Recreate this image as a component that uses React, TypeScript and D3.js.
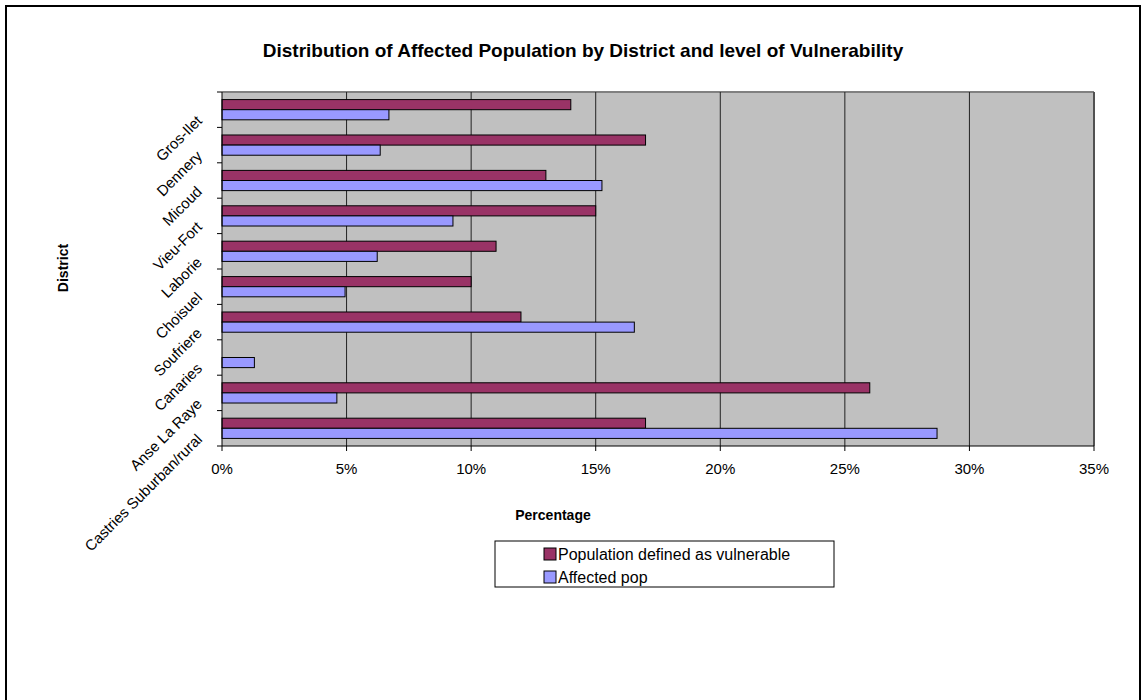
import React from "react";
import { scaleBand, scaleLinear, format } from "d3";

const districts = [
  "Gros-Ilet",
  "Dennery",
  "Micoud",
  "Vieu-Fort",
  "Laborie",
  "Choisuel",
  "Soufriere",
  "Canaries",
  "Anse La Raye",
  "Castries Suburban/rural",
];

const vulnerable = [0.14, 0.17, 0.13, 0.15, 0.11, 0.1, 0.12, 0, 0.26, 0.17];
const affected = [0.067, 0.0635, 0.1525, 0.0927, 0.0623, 0.0494, 0.1655, 0.013, 0.0461, 0.287];

const seriesNames = ["Population defined as vulnerable", "Affected pop"];
const seriesColors = ["#993366", "#9999FF"];
const xTicks = [0, 0.05, 0.1, 0.15, 0.2, 0.25, 0.3, 0.35];

const W = 1146;
const H = 700;
const left = 222;
const right = 1094;
const top = 92;
const bottom = 446;
const font = "'Liberation Sans', Arial, sans-serif";

export default function App() {
  const x = scaleLinear().domain([0, 0.35]).range([left, right]);
  const y = scaleBand().domain(districts).range([top, bottom]).paddingInner(0).paddingOuter(0);
  const inner = scaleBand()
    .domain(seriesNames)
    .range([0, y.bandwidth()])
    .paddingInner(0)
    .paddingOuter(0.75);
  const pct = format(".0%");
  const series = [vulnerable, affected];

  return (
    <svg
      width={W}
      height={H}
      style={{ position: "absolute", left: 0, top: 0, display: "block" }}
      fontFamily={font}
    >
      <rect x={0} y={0} width={W} height={H} fill="#fff" />
      <rect x={6} y={6} width={1134} height={720} fill="none" stroke="#000" strokeWidth={2} />

      <text x={583} y={57} textAnchor="middle" fontSize={19} fontWeight="bold">
        Distribution of Affected Population by District and level of Vulnerability
      </text>

      {/* plot area */}
      <rect x={left} y={top} width={right - left} height={bottom - top} fill="#C0C0C0" />
      <line x1={left} x2={right} y1={top} y2={top} stroke="#808080" strokeWidth={2} />
      <line x1={right} x2={right} y1={top} y2={bottom} stroke="#808080" strokeWidth={2} />
      {xTicks.slice(1).map((t) => (
        <line key={t} x1={x(t)} x2={x(t)} y1={top} y2={bottom} stroke="#222" strokeWidth={1} />
      ))}

      {districts.map((d, i) => (
        <g key={d} transform={`translate(0,${y(d)})`}>
          {series.map((s, j) =>
            s[i] > 0 ? (
              <rect
                key={j}
                x={left}
                y={inner(seriesNames[j])}
                width={x(s[i]) - left}
                height={inner.bandwidth()}
                fill={seriesColors[j]}
                stroke="#000"
                strokeWidth={1}
              />
            ) : null
          )}
        </g>
      ))}

      {/* y axis */}
      <line x1={left} x2={left} y1={top} y2={bottom} stroke="#000" strokeWidth={1} />
      {[...districts.map((d) => y(d) as number), bottom].map((v, i) => (
        <line key={i} x1={left - 5} x2={left} y1={v} y2={v} stroke="#000" />
      ))}
      {districts.map((d) => {
        const cx = 203;
        const cy = (y(d) as number) + y.bandwidth() / 2 + 12;
        return (
          <text
            key={d}
            x={cx}
            y={cy}
            textAnchor="end"
            fontSize={15}
            transform={`rotate(-45,${cx},${cy})`}
          >
            {d}
          </text>
        );
      })}

      {/* x axis */}
      <line x1={left} x2={right} y1={bottom} y2={bottom} stroke="#000" strokeWidth={1} />
      {xTicks.map((t) => (
        <g key={t}>
          <line x1={x(t)} x2={x(t)} y1={bottom} y2={bottom + 5} stroke="#000" />
          <text x={x(t)} y={474} textAnchor="middle" fontSize={15}>
            {pct(t)}
          </text>
        </g>
      ))}

      <text x={553} y={520} textAnchor="middle" fontSize={14} fontWeight="bold">
        Percentage
      </text>
      <text
        x={63}
        y={268}
        textAnchor="middle"
        fontSize={14}
        fontWeight="bold"
        transform={`rotate(-90,63,268)`}
        dy="0.35em"
      >
        District
      </text>

      {/* legend */}
      <rect x={495} y={541} width={339} height={46} fill="#fff" stroke="#000" strokeWidth={1} />
      {seriesNames.map((n, j) => (
        <g key={n} transform={`translate(544,${548 + j * 23})`}>
          <rect x={0} y={0} width={12} height={12} fill={seriesColors[j]} stroke="#000" />
          <text x={14} y={12} fontSize={16}>
            {n}
          </text>
        </g>
      ))}
    </svg>
  );
}
